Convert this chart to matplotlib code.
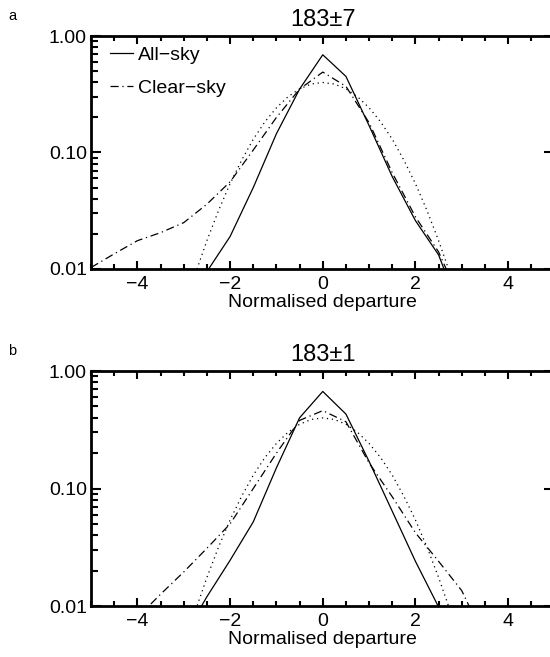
import matplotlib
matplotlib.use("Agg")
import matplotlib.pyplot as plt
from matplotlib.ticker import MultipleLocator, LogLocator, NullFormatter

plt.rcParams['font.family'] = ['Liberation Sans', 'DejaVu Sans']

# bin centres of the departure histograms
x_bins = [-5.0, -4.5, -4.0, -3.5, -3.0, -2.5, -2.0, -1.5, -1.0, -0.5, 0.0,
          0.5, 1.0, 1.5, 2.0, 2.5, 3.0, 3.5, 4.0, 4.5, 5.0]

# panel a: 183+-7
all_sky_a = [0.0002, 0.0003, 0.0005, 0.001, 0.003, 0.0095, 0.019, 0.05, 0.145, 0.35, 0.69,
             0.45, 0.17, 0.062, 0.026, 0.0132, 0.004, 0.0012, 0.0004, 0.0002, 0.0001]
clear_sky_a = [0.0103, 0.0135, 0.0175, 0.0205, 0.025, 0.036, 0.056, 0.105, 0.2, 0.35, 0.49,
               0.37, 0.18, 0.067, 0.028, 0.014, 0.005, 0.0015, 0.0005, 0.0002, 0.0001]

# panel b: 183+-1
all_sky_b = [0.0002, 0.0003, 0.0005, 0.001, 0.0055, 0.012, 0.0245, 0.052, 0.15, 0.40, 0.67,
             0.43, 0.17, 0.064, 0.024, 0.0098, 0.003, 0.001, 0.0004, 0.0002, 0.0001]
clear_sky_b = [0.002, 0.004, 0.008, 0.0126, 0.0195, 0.031, 0.05, 0.10, 0.2, 0.38, 0.46,
               0.37, 0.165, 0.085, 0.042, 0.024, 0.0135, 0.0052, 0.002, 0.0008, 0.0003]

# dotted reference curve (same in both panels)
x_ref = [-3.25, -3.0, -2.75, -2.5, -2.25, -2.0, -1.75, -1.5, -1.25, -1.0, -0.75, -0.5, -0.25, 0.0,
         0.25, 0.5, 0.75, 1.0, 1.25, 1.5, 1.75, 2.0, 2.25, 2.5, 2.75, 3.0, 3.25]
ref = [0.0020, 0.0044, 0.0091, 0.0175, 0.0317, 0.054, 0.086, 0.130, 0.183, 0.242, 0.301, 0.352, 0.387, 0.399,
       0.387, 0.352, 0.301, 0.242, 0.183, 0.130, 0.086, 0.054, 0.0317, 0.0175, 0.0091, 0.0044, 0.0020]

panels = [
    ('a', '183\u00b17', all_sky_a, clear_sky_a, [0.1656, 0.5906, 0.8425, 0.3546]),
    ('b', '183\u00b11', all_sky_b, clear_sky_b, [0.1656, 0.0776, 0.8425, 0.3577]),
]

fig = plt.figure(figsize=(5.5, 6.57), dpi=100)

for i, (letter, title, allsky, clearsky, pos) in enumerate(panels):
    ax = fig.add_axes(pos)
    ax.plot(x_bins, allsky, color='black', lw=0.9, label='All\u2212sky')
    ax.plot(x_bins, clearsky, color='black', lw=0.9, dashes=(6.5, 3, 1, 3), label='Clear\u2212sky')
    ax.plot(x_ref, ref, color='black', lw=0.9, dashes=(1, 3))

    ax.set_yscale('log')
    ax.set_xlim(-5, 5)
    ax.set_ylim(0.01, 1.0)
    ax.set_xticks([-4, -2, 0, 2, 4])
    ax.set_xticklabels(['\u22124', '\u22122', '0', '2', '4'])
    ax.xaxis.set_minor_locator(MultipleLocator(0.5))
    ax.set_yticks([0.01, 0.1, 1.0])
    ax.set_yticklabels(['0.01', '0.10', '1.00'])
    ax.yaxis.set_minor_locator(LogLocator(base=10, subs=[2, 3, 4, 5, 6, 7, 8, 9]))
    ax.yaxis.set_minor_formatter(NullFormatter())

    ax.tick_params(which='both', direction='in', top=True, right=True, width=1.5,
                   labelsize=14)
    ax.tick_params(axis='x', which='major', length=6, pad=5)
    ax.tick_params(axis='x', which='minor', length=3.5)
    ax.tick_params(axis='y', which='major', length=7.5, pad=3)
    ax.tick_params(axis='y', which='minor', length=5, right=False)
    for s in ax.spines.values():
        s.set_linewidth(2)

    ax.set_xlabel('Normalised departure', fontsize=14, labelpad=1)
    ax.set_title(title, fontsize=17, pad=7)
    fig.text(0.022, pos[1] + pos[3] + 0.03, letter, fontsize=10.5, va='center', ha='center')

    if i == 0:
        ax.legend(loc='upper left', bbox_to_anchor=(0.041, 0.955), frameon=False, fontsize=14,
                  handlelength=1.2, handletextpad=0.25, labelspacing=0.8,
                  borderaxespad=0, borderpad=0)

fig.savefig('out.png', dpi=100)
